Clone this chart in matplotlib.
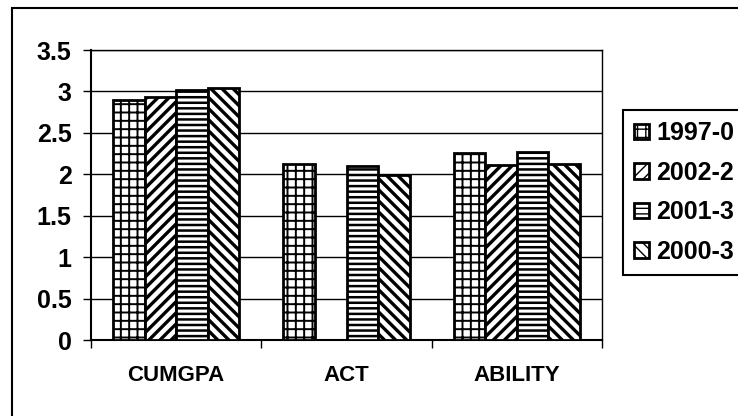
import numpy as np
import matplotlib
matplotlib.use("Agg")
import matplotlib.pyplot as plt
from matplotlib.patches import Rectangle

# === DATA ===
categories = ["CUMGPA", "ACT", "ABILITY"]
series_names = ["1997-0", "2002-2", "2001-3", "2000-3"]
s1997 = [2.90, 2.13, 2.26]
s2002 = [2.93, np.nan, 2.11]
s2001 = [3.02, 2.10, 2.27]
s2000 = [3.04, 1.99, 2.13]
yticks = [0, 0.5, 1, 1.5, 2, 2.5, 3, 3.5]
ytick_labels = ["0", "0.5", "1", "1.5", "2", "2.5", "3", "3.5"]

hatches = ["++", "///", "---", "\\\\\\"]
hatch_lw = [1.4, 2.4, 1.8, 2.4]

plt.rcParams["font.family"] = ["Liberation Sans", "DejaVu Sans"]
plt.rcParams["hatch.color"] = "black"

fig = plt.figure(figsize=(7.38, 4.16), dpi=100)
ax = fig.add_axes([91 / 738, 1 - 340 / 416, 511 / 738, 290 / 416])

# === BARS ===
x = np.arange(len(categories))
bw = 0.185
all_series = [s1997, s2002, s2001, s2000]
for i, (vals, name) in enumerate(zip(all_series, series_names)):
    with plt.rc_context({"hatch.linewidth": hatch_lw[i]}):
        ax.bar(x + (i - 1.5) * bw, vals, width=bw, facecolor="white",
               edgecolor="black", linewidth=2, hatch=hatches[i], label=name, zorder=3)

ax.set_xlim(-0.5, 2.5)
ax.set_ylim(0, 3.5)
ax.set_yticks(yticks)
ax.set_yticklabels(ytick_labels, fontsize=18, fontweight="bold")
ax.yaxis.grid(True, color="black", linewidth=1, zorder=0)
ax.set_axisbelow(True)

ax.set_xticks(x)
ax.set_xticklabels(categories, fontsize=16, fontweight="bold")
ax.set_xticks([-0.5, 0.5, 1.5, 2.5], minor=True)
ax.tick_params(axis="x", which="major", length=0, pad=18)
ax.tick_params(axis="x", which="minor", length=6, width=1, direction="out")
ax.tick_params(axis="y", length=6, width=1, direction="out", pad=8)

for sp in ax.spines.values():
    sp.set_color("black")
    sp.set_linewidth(1)
ax.spines["left"].set_linewidth(1.5)
ax.spines["bottom"].set_linewidth(1.5)

# === LEGEND ===
leg = fig.legend(loc="upper left", bbox_to_anchor=(623 / 738, 1 - 110 / 416),
                 prop={"size": 18, "weight": "bold"}, frameon=True, fancybox=False,
                 edgecolor="black", framealpha=1, borderaxespad=0, borderpad=0.45,
                 handlelength=0.6, handleheight=0.6, handletextpad=0.28,
                 labelspacing=0.62)
leg.get_frame().set_linewidth(1.5)

# outer chart border (cropped on the right and bottom)
fig.patches.append(Rectangle((12 / 738, -0.1), 1.0, 1.1 - 8 / 416, transform=fig.transFigure,
                             fill=False, edgecolor="black", linewidth=1.5))

fig.savefig("out.png", dpi=100)
